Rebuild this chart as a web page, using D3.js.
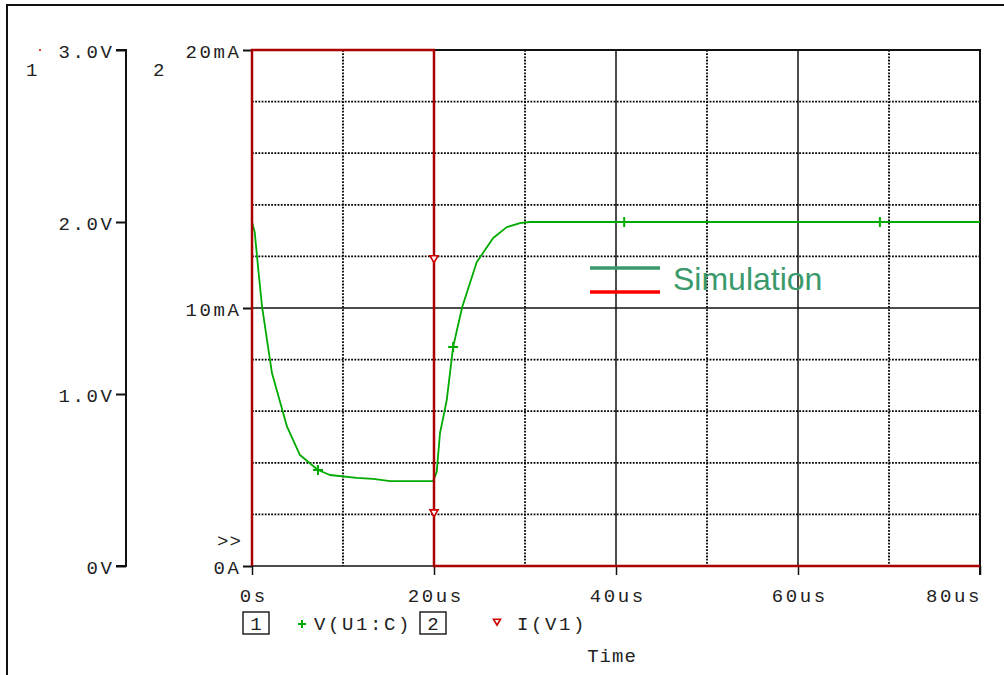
<!DOCTYPE html>
<html>
<head>
<meta charset="utf-8">
<script src="https://cdn.jsdelivr.net/npm/d3@7"></script>
<style>
  html, body { margin: 0; padding: 0; background: #fff; }
  svg { display: block; }
  .mono { font-family: "Liberation Mono", "DejaVu Sans Mono", monospace; fill: #222; }
</style>
</head>
<body>
<svg id="chart" width="1004" height="675"></svg>
<script>
// Transient run: time in microseconds
const timeTicks = [0, 20, 40, 60, 80];
const timeTickLabels = ["0s", "20us", "40us", "60us", "80us"];
const voltTicks = [0, 1, 2, 3];
const voltTickLabels = ["0V", "1.0V", "2.0V", "3.0V"];
const currTicks = [0, 10, 20];
const currTickLabels = ["0A", "10mA", "20mA"];

// V(U1:C) trace (volts)
const vTime = [0, 0.3, 0.66, 1.1, 2.2, 3.85, 5.27, 7.25, 8.57, 11.5, 13.3, 15.2, 19.9,
               20.3, 20.66, 21.0, 21.4, 22.1, 23.1, 24.7, 26.5, 28.0, 29.45, 30.5, 40.9, 69.0, 80];
const vValue = [2.0, 1.94, 1.74, 1.51, 1.12, 0.81, 0.645, 0.558, 0.529, 0.512, 0.506, 0.494, 0.494,
                0.547, 0.773, 0.86, 0.965, 1.273, 1.506, 1.767, 1.907, 1.97, 1.994, 2.0, 2.0, 2.0, 2.0];
// points on V(U1:C) carrying "+" symbols
const vMarkTime = [7.25, 22.1, 40.9, 69.0];
const vMarkValue = [0.558, 1.273, 2.0, 2.0];

// I(V1) trace (mA)
const iTime = [0, 0, 20, 20, 20, 20, 80];
const iValue = [0, 20, 20, 11.9, 2.05, 0, 0];
// points on I(V1) carrying triangle symbols
const iMarkTime = [20, 20];
const iMarkValue = [11.9, 2.05];

const svg = d3.select("#chart");

const x = d3.scaleLinear().domain([0, 80]).range([252, 980]);
const yV = d3.scaleLinear().domain([0, 3]).range([566, 50]);
const yI = d3.scaleLinear().domain([0, 20]).range([566, 50]);

const green = "#00aa00";
const red = "#aa0000";
const FS = 19;      // label font size
const LS = 2.6;     // label letter spacing

// outer page frame
svg.append("path").attr("d", "M7,676 L7,5 L1006,5")
  .attr("fill", "none").attr("stroke", "#111").attr("stroke-width", 2);

// grid: every 10us and every 2mA, solid on the major divisions
const grid = svg.append("g");
d3.range(10, 80, 10).forEach(t => {
  const solid = t % 20 === 0;
  grid.append("line").attr("x1", x(t)).attr("x2", x(t)).attr("y1", 50).attr("y2", 566)
    .attr("stroke", solid ? "#111" : "#000")
    .attr("stroke-width", solid ? 1.5 : 1.8)
    .attr("stroke-dasharray", solid ? null : "1.8,1.4");
});
d3.range(2, 20, 2).forEach(v => {
  const solid = v === 10;
  grid.append("line").attr("x1", 252).attr("x2", 980).attr("y1", yI(v)).attr("y2", yI(v))
    .attr("stroke", solid ? "#111" : "#000")
    .attr("stroke-width", solid ? 1.5 : 1.8)
    .attr("stroke-dasharray", solid ? null : "1.8,1.4");
});

// plot frame
svg.append("path").attr("d", `M252,${yI(20)} L980,${yI(20)} L980,575`)
  .attr("fill", "none").attr("stroke", "#111").attr("stroke-width", 2);
svg.append("line").attr("x1", 252).attr("x2", 980).attr("y1", 566).attr("y2", 566)
  .attr("stroke", "#111").attr("stroke-width", 1.5);

// time axis
const xAxis = d3.axisBottom(x).tickValues(timeTicks)
  .tickFormat((d, i) => timeTickLabels[i]).tickSize(9).tickPadding(8);
const gx = svg.append("g").attr("transform", "translate(0,566)").call(xAxis);
gx.select(".domain").remove();
gx.selectAll(".tick line").attr("stroke", "#111").attr("stroke-width", 1.5);
gx.selectAll(".tick text").attr("class", "mono").attr("font-size", FS)
  .attr("letter-spacing", LS).attr("fill", "#222").attr("y", 36).attr("dy", 0)
  .attr("dx", LS / 2)
  .filter(d => d === 80).attr("text-anchor", "end").attr("dx", LS - 1);

// voltage axis (1)
const yVAxis = d3.axisLeft(yV).tickValues(voltTicks)
  .tickFormat((d, i) => voltTickLabels[i]).tickSize(10).tickPadding(4);
const gv = svg.append("g").attr("transform", "translate(126,0)").call(yVAxis);
gv.select(".domain").attr("stroke", "#111").attr("stroke-width", 2)
  .attr("d", `M-10,${yV(3)}H0V${yV(0)}H-10`);
gv.selectAll(".tick line").attr("stroke", "#111").attr("stroke-width", 2);
gv.selectAll(".tick text").attr("class", "mono").attr("font-size", FS)
  .attr("letter-spacing", LS).attr("fill", "#222").attr("dy", "0.38em").attr("dx", LS);

// current axis (2)
const yIAxis = d3.axisLeft(yI).tickValues(currTicks)
  .tickFormat((d, i) => currTickLabels[i]).tickSize(9).tickPadding(4);
const gi = svg.append("g").attr("transform", "translate(252,0)").call(yIAxis);
gi.select(".domain").remove();
gi.selectAll(".tick line").attr("stroke", "#111").attr("stroke-width", 2);
gi.selectAll(".tick text").attr("class", "mono").attr("font-size", FS)
  .attr("letter-spacing", LS).attr("fill", "#222").attr("dy", "0.38em").attr("dx", LS);

// axis numbers
svg.append("text").attr("class", "mono").attr("x", 26).attr("y", 76)
  .attr("font-size", FS).text("1");
svg.append("circle").attr("cx", 40).attr("cy", 50).attr("r", 1).attr("fill", "#d00000");
svg.append("text").attr("class", "mono").attr("x", 153).attr("y", 76)
  .attr("font-size", FS).text("2");
svg.append("text").attr("class", "mono").attr("x", 217).attr("y", 547)
  .attr("font-size", FS).attr("letter-spacing", 1).text(">>");

// traces
const lineV = d3.line().x((d, i) => x(vTime[i])).y(d => yV(d));
svg.append("path").datum(vValue).attr("d", lineV)
  .attr("fill", "none").attr("stroke", green).attr("stroke-width", 1.8)
  .attr("stroke-linejoin", "round");

const lineI = d3.line().x((d, i) => x(iTime[i])).y(d => yI(d));
svg.append("path").datum(iValue).attr("d", lineI)
  .attr("fill", "none").attr("stroke", red).attr("stroke-width", 2.5);

// symbols on traces
const plus = (g, cx, cy, s, col) => {
  g.append("path").attr("d", `M${cx - s},${cy}H${cx + s}M${cx},${cy - s}V${cy + s}`)
    .attr("stroke", col).attr("stroke-width", 2).attr("fill", "none");
};
const tri = (g, cx, cy, s, col) => {
  g.append("path").attr("d", `M${cx - s},${cy - s * 0.8}L${cx + s},${cy - s * 0.8}L${cx},${cy + s * 0.9}Z`)
    .attr("stroke", col).attr("stroke-width", 1.6).attr("fill", "#fff");
};
const marks = svg.append("g");
vMarkTime.forEach((t, i) => plus(marks, x(t), yV(vMarkValue[i]), 5, green));
iMarkTime.forEach((t, i) => tri(marks, x(t), yI(iMarkValue[i]), 4, "#cc0000"));

// probe legend below the axis
const leg = svg.append("g");
leg.append("rect").attr("x", 243).attr("y", 612).attr("width", 26).attr("height", 22)
  .attr("fill", "none").attr("stroke", "#222").attr("stroke-width", 1.5);
leg.append("text").attr("class", "mono").attr("x", 256).attr("y", 630)
  .attr("text-anchor", "middle").attr("font-size", FS).text("1");
plus(leg, 302, 624, 4, green);
leg.append("text").attr("class", "mono").attr("x", 314).attr("y", 630)
  .attr("font-size", FS).attr("letter-spacing", 2.6).text("V(U1:C)");
leg.append("rect").attr("x", 420).attr("y", 612).attr("width", 26).attr("height", 22)
  .attr("fill", "none").attr("stroke", "#222").attr("stroke-width", 1.5);
leg.append("text").attr("class", "mono").attr("x", 433).attr("y", 630)
  .attr("text-anchor", "middle").attr("font-size", FS).text("2");
tri(leg, 497, 622, 3.5, "#cc0000");
leg.append("text").attr("class", "mono").attr("x", 517).attr("y", 630)
  .attr("font-size", FS).attr("letter-spacing", 2.6).text("I(V1)");
svg.append("text").attr("class", "mono").attr("x", 612).attr("y", 662)
  .attr("text-anchor", "middle").attr("font-size", FS).attr("letter-spacing", 1).text("Time");

// series key
const key = svg.append("g");
key.append("line").attr("x1", 590).attr("x2", 660).attr("y1", 268).attr("y2", 268)
  .attr("stroke", "#3a9a6c").attr("stroke-width", 3.5);
key.append("line").attr("x1", 590).attr("x2", 660).attr("y1", 292).attr("y2", 292)
  .attr("stroke", "#ff0000").attr("stroke-width", 3.5);
key.append("text").attr("x", 673).attr("y", 290)
  .attr("font-family", "Liberation Sans, Arial, sans-serif").attr("font-size", 32)
  .attr("fill", "#3a9a6c").text("Simulation");
</script>
</body>
</html>
